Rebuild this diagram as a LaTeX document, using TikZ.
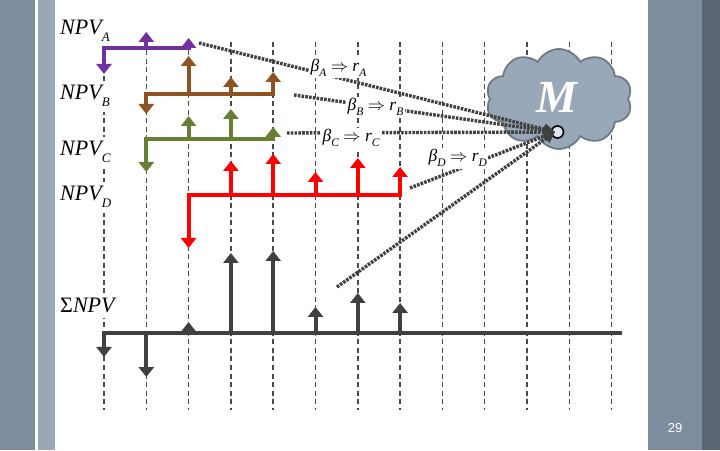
\documentclass[tikz,border=0pt]{standalone}
\usepackage{fontspec}
\setmainfont{Liberation Serif}
\newfontfamily\pagesans{Liberation Sans}
\usetikzlibrary{arrows.meta,shapes.symbols}
\definecolor{panelA}{HTML}{7D8D9D}
\definecolor{panelB}{HTML}{9AA8B5}
\definecolor{panelC}{HTML}{5B6774}
\definecolor{gridc}{HTML}{434B54}
\definecolor{cpurple}{HTML}{7030A0}
\definecolor{cbrown}{HTML}{8E5320}
\definecolor{cgreen}{HTML}{677F35}
\definecolor{cred}{HTML}{FF0000}
\definecolor{cgray}{HTML}{404040}
\definecolor{cloudf}{HTML}{98A8B8}
\definecolor{cloudb}{HTML}{6E7A86}
\definecolor{dotc}{HTML}{404040}
\newcommand\sbsc[3]{\raisebox{-#1}{\fontsize{#2}{#2}\selectfont\itshape #3}}
\newcommand\npvlab[1]{\fontsize{22}{22}\selectfont\itshape NPV\sbsc{7pt}{13}{#1}}
\newcommand\betalab[1]{\fontsize{17.5}{17.5}\selectfont\itshape β\sbsc{5pt}{11.5}{#1} $\Rightarrow$ r\sbsc{5pt}{11.5}{#1}}
\tikzset{
  gridline/.style={gridc, line width=1.5pt, dash pattern=on 5pt off 3.5pt},
  arrline/.style={line width=4pt, -{Triangle[width=15pt,length=10pt]}},
  arrboth/.style={line width=4pt, {Triangle[width=15pt,length=10pt]}-{Triangle[width=15pt,length=10pt]}},
  dotline/.style={dotc, line width=3.4pt, dash pattern=on 2.6pt off 1.2pt, -{Triangle[width=11pt,length=11pt]}},
  npvnode/.style={fill=white, inner xsep=2pt, inner ysep=5pt, anchor=base west},
  betanode/.style={fill=white, inner sep=1.5pt, anchor=base west},
}
\begin{document}
\begin{tikzpicture}[x=1pt,y=1pt]
\useasboundingbox (0,0) rectangle (720,450);
% background panels
\fill[white] (0,0) rectangle (720,450);
\fill[panelA] (0,0) rectangle (35,450);
\fill[panelB] (38,0) rectangle (55,450);
\fill[panelA] (648,0) rectangle (702,450);
\fill[panelC] (702,0) rectangle (720,450);
% vertical dashed grid
\foreach \i in {0,...,12}{
  \draw[gridline] (104+42.3*\i,408) -- (104+42.3*\i,40);
}
% cloud
\node[cloud, cloud puffs=10, cloud puff arc=125, cloud ignores aspect,
      minimum width=146pt, minimum height=100pt, inner sep=0pt,
      fill=cloudf, draw=cloudb, line width=1.8pt] (cl) at (559,351) {};
\node[text=white, inner sep=0pt, font=\fontsize{46}{46}\selectfont\bfseries\itshape] (mm) at (557,353) {M};
\node[circle, minimum size=12pt, inner sep=0pt, fill=white!70!cloudf, draw=black, line width=1.6pt] (mc) at (557.5,318) {};
\coordinate (mt) at (555,318);
% dotted connectors
\coordinate (sA) at (199,407);
\coordinate (sB) at (294,355);
\coordinate (sC) at (287,317);
\coordinate (sD) at (410,262);
\coordinate (sE) at (337,163);
\draw[dotline] (sA) -- (mt);
\draw[dotline] (sB) -- (mt);
\draw[dotline] (sC) -- (mt);
\draw[dotline] (sD) -- (mt);
\draw[dotline] (sE) -- (mt);
% beta labels
\node[betanode] (bA) at (309,378) {\betalab{A}};
\node[betanode] (bB) at (346,339) {\betalab{B}};
\node[betanode] (bC) at (321,308) {\betalab{C}};
\node[betanode] (bD) at (427,288) {\betalab{D}};
% NPV labels
\node[npvnode] (nA) at (58,415) {\npvlab{A}};
\node[npvnode] (nB) at (58,350) {\npvlab{B}};
\node[npvnode] (nC) at (58,294) {\npvlab{C}};
\node[npvnode] (nD) at (58,249) {\npvlab{D}};
\node[npvnode] (nS) at (58,137) {\fontsize{22}{22}\selectfont Σ\itshape NPV};
% purple
\draw[arrboth, cpurple] (104,376) -- (104,402) -- (188.6,402) -- (188.6,412);
\draw[arrline, cpurple] (146.3,402) -- (146.3,418);
% brown
\draw[arrboth, cbrown] (146.3,336) -- (146.3,356) -- (273.2,356) -- (273.2,378);
\draw[arrline, cbrown] (188.6,356) -- (188.6,394);
\draw[arrline, cbrown] (230.9,356) -- (230.9,373);
% green
\draw[arrboth, cgreen] (146.3,278) -- (146.3,311) -- (273.2,311) -- (273.2,323);
\draw[arrline, cgreen] (188.6,311) -- (188.6,334);
\draw[arrline, cgreen] (230.9,311) -- (230.9,341);
% red
\draw[arrboth, cred] (188.6,202) -- (188.6,255) -- (400.1,255) -- (400.1,283);
\draw[arrline, cred] (230.9,255) -- (230.9,289);
\draw[arrline, cred] (273.2,255) -- (273.2,296);
\draw[arrline, cred] (315.5,255) -- (315.5,278);
\draw[arrline, cred] (357.8,255) -- (357.8,292);
% sum
\draw[line width=4pt, cgray, {Triangle[width=15pt,length=10pt]}-] (104,93) -- (104,117) -- (622,117);
\draw[arrline, cgray] (146.3,117) -- (146.3,73);
\draw[arrline, cgray] (188.6,117) -- (188.6,128);
\draw[arrline, cgray] (230.9,117) -- (230.9,197);
\draw[arrline, cgray] (273.2,117) -- (273.2,199);
\draw[arrline, cgray] (315.5,117) -- (315.5,143);
\draw[arrline, cgray] (357.8,117) -- (357.8,157);
\draw[arrline, cgray] (400.1,117) -- (400.1,147);
% page number
\node[text=white, font=\pagesans\fontsize{13}{13}\selectfont] (pg) at (675,22) {29};
\end{tikzpicture}
\end{document}
